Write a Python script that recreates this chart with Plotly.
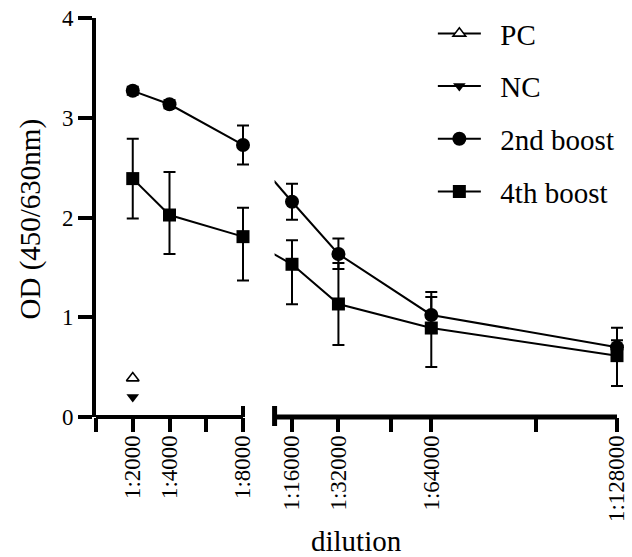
import plotly.graph_objects as go

# ---------------- data ----------------
dil_left = [2000, 4000, 8000]
dil_right = [16000, 32000, 64000, 128000]

boost2_left = [3.27, 3.135, 2.727]
boost2_left_up = [0.04, 0.04, 0.195]
boost2_left_dn = [0.04, 0.04, 0.195]
boost2_right = [2.158, 1.634, 1.023, 0.70]
boost2_right_up = [0.18, 0.155, 0.18, 0.07]
boost2_right_dn = [0.18, 0.15, 0.18, 0.07]

boost4_left = [2.39, 2.025, 1.808]
boost4_left_up = [0.40, 0.43, 0.29]
boost4_left_dn = [0.40, 0.39, 0.44]
boost4_right = [1.531, 1.133, 0.892, 0.615]
boost4_right_up = [0.24, 0.41, 0.36, 0.28]
boost4_right_dn = [0.40, 0.41, 0.39, 0.305]

pc_dil, pc_val = [2000], [0.39]
nc_dil, nc_val = [2000], [0.20]

left_ticks = [0, 2000, 4000, 6000, 8000]
left_labels = ["", "1:2000", "1:4000", "", "1:8000"]
right_ticks = [16000, 32000, 50000, 64000, 100000, 128000]
right_labels = ["1:16000", "1:32000", "", "1:64000", "", "1:128000"]

# ------------- broken-axis scale (in plot-width px units) -------------
PAD = 12                # room beyond axis ends so end markers/error bars are not clipped
LEFT_MAX = 8000
LEFT_SPAN = 147         # width used by 0..8000
RIGHT_START = 10000
RIGHT_REF = 16000
RIGHT_REF_POS = 196
RIGHT_MAX = 128000
RIGHT_SPAN = 325        # width used by 16000..128000
W = RIGHT_REF_POS + RIGHT_SPAN + PAD   # total plot width in px


def pos(d):
    if d <= LEFT_MAX:
        return d / LEFT_MAX * LEFT_SPAN
    return RIGHT_REF_POS + (d - RIGHT_REF) / (RIGHT_MAX - RIGHT_REF) * RIGHT_SPAN


def P(lst):
    return [pos(v) for v in lst]


FONT = "Liberation Serif"
BLACK = "black"
NB = "\u00a0\u00a0"

fig = go.Figure()


def err(up, dn):
    return dict(type="data", symmetric=False, array=up, arrayminus=dn,
                color=BLACK, thickness=2, width=6)


# PC / NC
fig.add_trace(go.Scatter(
    x=P(pc_dil), y=pc_val, mode="lines+markers", name=NB + "PC",
    legendgroup="pc", cliponaxis=False,
    line=dict(color=BLACK, width=2),
    marker=dict(symbol="triangle-up", size=11, color="white",
                line=dict(color=BLACK, width=1.6)),
    xaxis="x", yaxis="y"))
fig.add_trace(go.Scatter(
    x=P(nc_dil), y=nc_val, mode="lines+markers", name=NB + "NC",
    legendgroup="nc", cliponaxis=False,
    line=dict(color=BLACK, width=2),
    marker=dict(symbol="triangle-down", size=11, color=BLACK),
    xaxis="x", yaxis="y"))

series = [
    ("2nd boost", "b2", "circle", 14, boost2_left, boost2_left_up, boost2_left_dn,
     boost2_right, boost2_right_up, boost2_right_dn),
    ("4th boost", "b4", "square", 13, boost4_left, boost4_left_up, boost4_left_dn,
     boost4_right, boost4_right_up, boost4_right_dn),
]

for name, grp, sym, size, yl, ylu, yld, yr, yru, yrd in series:
    mk = dict(symbol=sym, size=size, color=BLACK)
    fig.add_trace(go.Scatter(
        x=P(dil_left), y=yl, mode="lines+markers", name=NB + name,
        legendgroup=grp, cliponaxis=False,
        line=dict(color=BLACK, width=2), marker=mk,
        error_y=err(ylu, yld), xaxis="x", yaxis="y"))
    # bridge line across the break (clipped at the start of the right subplot)
    fig.add_trace(go.Scatter(
        x=P([dil_left[-1], dil_right[0]]), y=[yl[-1], yr[0]], mode="lines",
        legendgroup=grp, showlegend=False, hoverinfo="skip",
        line=dict(color=BLACK, width=2), xaxis="x2", yaxis="y"))
    fig.add_trace(go.Scatter(
        x=P(dil_right), y=yr, mode="lines+markers", name=name,
        legendgroup=grp, showlegend=False, cliponaxis=False,
        line=dict(color=BLACK, width=2), marker=mk,
        error_y=err(yru, yrd), xaxis="x2", yaxis="y"))

tickfont = dict(family=FONT, size=23, color=BLACK)
left_dom_end = (pos(LEFT_MAX) + PAD) / W
right_dom_start = pos(RIGHT_START) / W
left_end = pos(LEFT_MAX) / W
right_end = pos(RIGHT_MAX) / W

xcommon = dict(tickmode="array", tickangle=-90, ticks="outside", ticklen=14,
               tickwidth=4, tickcolor=BLACK, tickfont=tickfont,
               ticklabelstandoff=-6,
               showline=False, showgrid=False, zeroline=False, anchor="y")

fig.update_layout(
    width=632, height=557,
    margin=dict(l=96, r=632 - 96 - W, t=18, b=140, autoexpand=False),
    paper_bgcolor="white", plot_bgcolor="white",
    showlegend=True,
    legend=dict(x=0.632, y=1.025, xanchor="left", yanchor="top",
                font=dict(family=FONT, size=29, color=BLACK),
                traceorder="grouped", tracegroupgap=12,
                itemwidth=43, bgcolor="rgba(0,0,0,0)"),
    xaxis=dict(domain=[0, left_dom_end], range=[0, pos(LEFT_MAX) + PAD],
               tickvals=P(left_ticks), ticktext=left_labels, **xcommon),
    xaxis2=dict(domain=[right_dom_start, 1], range=[pos(RIGHT_START), pos(RIGHT_MAX) + PAD],
                tickvals=P(right_ticks), ticktext=right_labels, **xcommon),
    yaxis=dict(range=[0, 4], tickmode="array", tickvals=[0, 1, 2, 3, 4],
               ticks="outside", ticklen=14, tickwidth=4, tickcolor=BLACK,
               tickfont=tickfont, showline=True, linewidth=4, linecolor=BLACK,
               showgrid=False, zeroline=False),
)

# x-axis segments
fig.add_shape(type="line", xref="paper", yref="paper",
              x0=0, x1=left_end, y0=0, y1=0, line=dict(color=BLACK, width=4))
fig.add_shape(type="line", xref="paper", yref="paper",
              x0=right_dom_start, x1=right_end, y0=0, y1=0, line=dict(color=BLACK, width=5))
# break caps
fig.add_shape(type="line", xref="paper", yref="paper",
              ysizemode="pixel", yanchor=0,
              x0=left_end, x1=left_end, y0=0, y1=11,
              line=dict(color=BLACK, width=4))
fig.add_shape(type="line", xref="paper", yref="paper",
              ysizemode="pixel", yanchor=0,
              x0=right_dom_start, x1=right_dom_start, y0=-9, y1=11,
              line=dict(color=BLACK, width=5))

fig.add_annotation(text="dilution", xref="paper", yref="paper",
                   x=(pos(RIGHT_MAX) / 2) / W, y=-0.312, xanchor="center", yanchor="middle",
                   showarrow=False, font=dict(family=FONT, size=29, color=BLACK))
fig.add_annotation(text="OD (450/630nm)", xref="paper", yref="paper",
                   x=-66 / W, y=0.495, xanchor="center", yanchor="middle",
                   textangle=-90, showarrow=False,
                   font=dict(family=FONT, size=29, color=BLACK))

fig.write_html("out.html")
